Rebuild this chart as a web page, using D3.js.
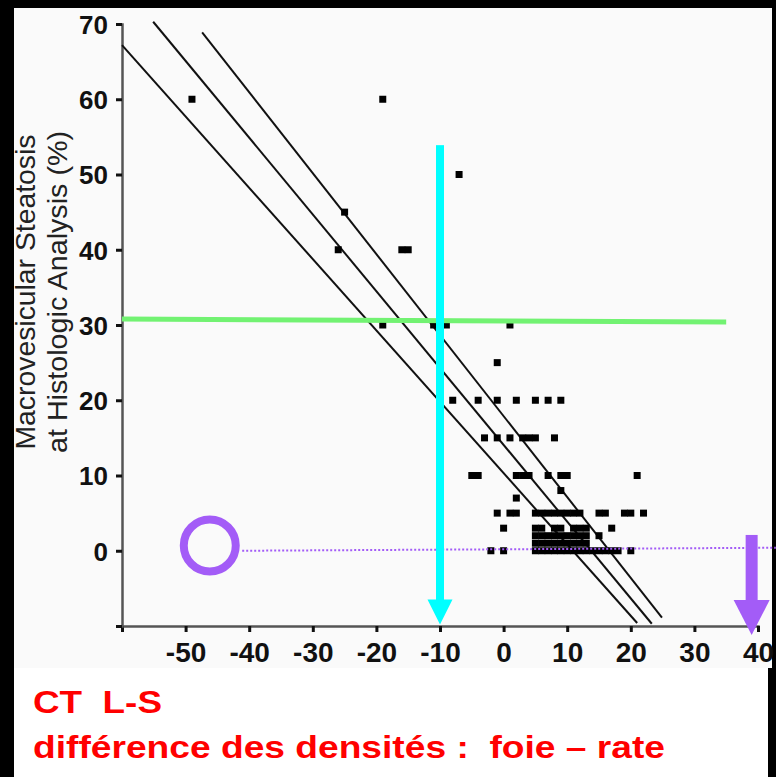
<!DOCTYPE html>
<html>
<head>
<meta charset="utf-8">
<script src="https://cdn.jsdelivr.net/npm/d3@7"></script>
<style>
  html, body { margin: 0; padding: 0; background: #000; }
  svg { display: block; }
  text { font-family: "Liberation Sans", Arial, sans-serif; }
  text.caption { white-space: pre; }
</style>
</head>
<body>
<div id="chart"></div>
<script>
'use strict';

// axis ticks
var xTicks = [-60, -50, -40, -30, -20, -10, 0, 10, 20, 30, 40]
  , yTicks = [-10, 0, 10, 20, 30, 40, 50, 60, 70]
;

// CT liver-spleen density difference (x) vs macrovesicular steatosis % (y)
var densityDiff = [
  -49, -19, -7, -25, -26, -16, -15, -19, -11, -9, 1, -1,
  -8, -4, -1, 2, 5, 7, 9,
  -3, -1, 1, 3, 4, 5, 8,
  -5, -4, 2, 3, 4, 7, 9, 10, 21,
  9, 2,
  -1, 1, 2, 5, 6, 7, 8, 9, 10, 11, 12, 15, 16, 19, 20, 22,
  0, 5, 6, 8, 9, 11, 12, 13, 17,
  5, 6, 7, 8, 9, 10, 11, 12, 13, 15,
  5, 6, 7, 8, 9, 10, 11, 12, 13,
  -2, 0, 5, 6, 7, 8, 9, 10, 11, 12, 13, 14, 15, 16, 17, 18, 20
];
var steatosis = [
  60, 60, 50, 45, 40, 40, 40, 30, 30, 30, 30, 25,
  20, 20, 20, 20, 20, 20, 20,
  15, 15, 15, 15, 15, 15, 15,
  10, 10, 10, 10, 10, 10, 10, 10, 10,
  8, 7,
  5, 5, 5, 5, 5, 5, 5, 5, 5, 5, 5, 5, 5, 5, 5, 5,
  3, 3, 3, 3, 3, 3, 3, 3, 3,
  2, 2, 2, 2, 2, 2, 2, 2, 2, 2,
  1, 1, 1, 1, 1, 1, 1, 1, 1,
  0, 0, 0, 0, 0, 0, 0, 0, 0, 0, 0, 0, 0, 0, 0, 0, 0
];

// regression line and its confidence limits (end points)
var lowerLimit = [[-60, 67.2], [21.0, -9.6]]
  , fitLine = [[-55.1, 70.3], [23.3, -9.7]]
  , upperLimit = [[-47.4, 68.9], [24.9, -8.9]]
;

// slide annotations
var thresholdLine = [[-60, 30.8], [35, 30.4]]
  , cyanArrow = [[-10, 53.9], [-10, -9.8]]
  , purpleArrow = [[39, 2.1], [39, -11.2]]
  , purpleCircle = [-46.2, 0.7]
  , zeroLine = [[-41.1, 0], [42.8, 0.4]]
;

var titleLines = ['Macrovesicular Steatosis', 'at Histologic Analysis (%)']
  , captionLines = ['CT  L-S', 'différence des densités :  foie – rate']
;

var width = 776
  , height = 777
;

var svg = d3.select('#chart').append('svg')
    .attr('width', width)
    .attr('height', height);

// black slide, chart picture and caption strip
svg.append('rect').attr('width', width).attr('height', height).attr('fill', '#000');
svg.append('rect').attr('x', 14).attr('y', 8).attr('width', 758).attr('height', 660).attr('fill', '#fafafa');
svg.append('rect').attr('x', 14).attr('y', 668).attr('width', 754).attr('height', 109).attr('fill', '#fff');

var x = d3.scaleLinear().domain([-60, 40]).range([122, 758])
  , y = d3.scaleLinear().domain([-10, 70]).range([626, 24])
;

var line = d3.line()
    .x(function (d) { return x(d[0]); })
    .y(function (d) { return y(d[1]); });

// axes
var xAxis = svg.append('g')
    .attr('transform', 'translate(0,' + y(-10) + ')')
    .call(d3.axisBottom(x)
      .tickValues(xTicks)
      .tickSize(6)
      .tickPadding(10)
      .tickFormat(function (d) { return d === -60 ? '' : d; }));

var yAxis = svg.append('g')
    .attr('transform', 'translate(' + x(-60) + ',0)')
    .call(d3.axisLeft(y)
      .tickValues(yTicks)
      .tickSize(6)
      .tickPadding(8)
      .tickFormat(function (d) { return d === -10 ? '' : d; }));

[xAxis, yAxis].forEach(function (g) {
  g.select('.domain').attr('stroke', '#555').attr('stroke-width', 2.5);
  g.selectAll('.tick line').attr('stroke', '#111').attr('stroke-width', 3);
  g.selectAll('.tick text')
    .attr('fill', '#111')
    .attr('font-weight', 'bold')
    .attr('font-family', '"Liberation Sans", Arial, sans-serif');
});
xAxis.selectAll('.tick text').attr('font-size', 28);
yAxis.selectAll('.tick text').attr('font-size', 26).attr('dy', '0.36em');

// y title, two lines rotated
svg.append('g')
    .attr('transform', 'translate(0,292) rotate(-90)')
  .selectAll('text')
    .data(titleLines)
    .enter()
    .append('text')
    .attr('x', 0)
    .attr('y', function (d, i) { return 35 + i * 32; })
    .attr('text-anchor', 'middle')
    .attr('font-size', 28)
    .attr('fill', '#222')
    .attr('textLength', function (d, i) { return i ? 322 : 315; })
    .attr('lengthAdjust', 'spacingAndGlyphs')
    .text(function (d) { return d; });

// regression and confidence lines
svg.selectAll('path.fit')
    .data([lowerLimit, fitLine, upperLimit])
    .enter()
    .append('path')
    .attr('class', 'fit')
    .attr('d', line)
    .attr('fill', 'none')
    .attr('stroke', '#111')
    .attr('stroke-width', 2);

// patients
var sq = 7;
svg.selectAll('rect.pt')
    .data(d3.zip(densityDiff, steatosis))
    .enter()
    .append('rect')
    .attr('class', 'pt')
    .attr('x', function (d) { return x(d[0]) - sq / 2; })
    .attr('y', function (d) { return y(d[1]) - sq / 2; })
    .attr('width', sq)
    .attr('height', sq)
    .attr('fill', '#000');

// green 30% threshold
svg.append('path')
    .attr('d', line(thresholdLine))
    .attr('stroke', '#72f272')
    .attr('stroke-width', 5)
    .attr('fill', 'none');

// dotted zero line and circle
svg.append('path')
    .attr('d', line(zeroLine))
    .attr('stroke', '#a35cf7')
    .attr('stroke-width', 2)
    .attr('stroke-dasharray', '2,2')
    .attr('fill', 'none');

svg.append('circle')
    .attr('cx', x(purpleCircle[0]))
    .attr('cy', y(purpleCircle[1]))
    .attr('r', 26)
    .attr('fill', 'none')
    .attr('stroke', '#a35cf7')
    .attr('stroke-width', 8);

// arrows pointing down at the x axis
function arrow (pts, color, shaft, headW, headH) {
  var x0 = x(pts[0][0])
    , top = y(pts[0][1])
    , tip = y(pts[1][1])
  ;
  svg.append('rect')
      .attr('x', x0 - shaft / 2)
      .attr('y', top)
      .attr('width', shaft)
      .attr('height', tip - headH - top + 1)
      .attr('fill', color);
  svg.append('path')
      .attr('d', 'M' + (x0 - headW / 2) + ',' + (tip - headH) +
                 'L' + (x0 + headW / 2) + ',' + (tip - headH) +
                 'L' + x0 + ',' + tip + 'Z')
      .attr('fill', color);
}
arrow(cyanArrow, '#00ffff', 8, 25, 25);
arrow(purpleArrow, '#a35cf7', 12, 36, 35);

// red caption (keeps the double spaces)
svg.selectAll('text.caption')
    .data(captionLines)
    .enter()
    .append('text')
    .attr('class', 'caption')
    .attr('xml:space', 'preserve')
    .attr('x', 33)
    .attr('y', function (d, i) { return 713 + i * 45; })
    .attr('font-size', 31)
    .attr('font-weight', 'bold')
    .attr('fill', '#ff0000')
    .attr('textLength', function (d, i) { return i ? 632 : 129; })
    .attr('lengthAdjust', 'spacingAndGlyphs')
    .text(function (d) { return d; });
</script>
</body>
</html>
